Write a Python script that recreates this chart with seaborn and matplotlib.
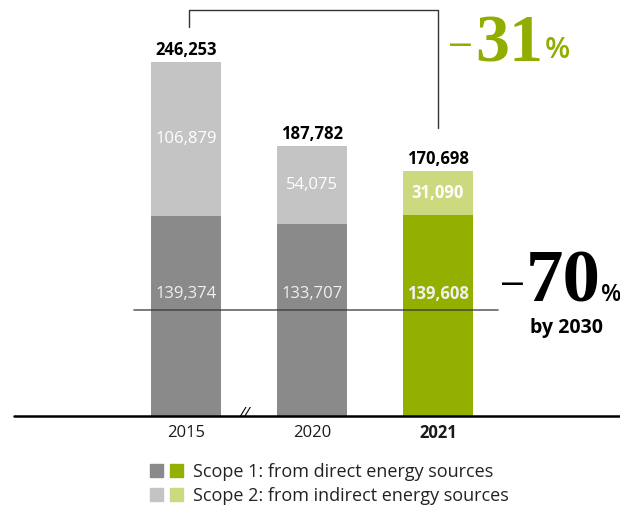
import pandas as pd
import seaborn as sns
import matplotlib.pyplot as plt
from matplotlib.patches import Patch
from matplotlib.legend_handler import HandlerTuple

sns.set_style("white")
plt.rcParams['font.family'] = ['Open Sans', 'DejaVu Sans']

# Data
years = ['2015', '2020', '2021']
scope1 = [139374, 133707, 139608]
scope2 = [106879, 54075, 31090]
totals = [246253, 187782, 170698]
target_2030 = 0.30  # -70% by 2030 vs 2015
change_label = '31'
target_label = '70'

dark_cols = ['#8a8a8a', '#8a8a8a', '#93b000']
light_cols = ['#c4c4c4', '#c4c4c4', '#ccd97e']

df = pd.DataFrame({'year': years, 'scope1': scope1, 'scope2': scope2,
                   'total': totals})

fig = plt.figure(figsize=(6.2, 5.08), dpi=100)
ax = fig.add_axes([0, 0, 1, 1])


def fpos(x, y):
    """Pixel position -> figure fraction."""
    return x / 620, 1 - y / 508


# Stacked bars: total (light) behind, scope 1 (dark) in front
sns.barplot(data=df, x='year', y='total', hue='year', palette=light_cols,
            dodge=False, legend=False, width=0.556, saturation=1,
            linewidth=0, errorbar=None, ax=ax)
sns.barplot(data=df, x='year', y='scope1', hue='year', palette=dark_cols,
            dodge=False, legend=False, width=0.556, saturation=1,
            linewidth=0, errorbar=None, ax=ax)

ax.set_xlim(-1.476, 3.444)
ax.set_ylim(-64000, 289391)
ax.axis('off')

# Baseline and axis break
ax.plot([-1.365, 3.5], [0, 0], color='black', lw=1.8, zorder=3)
ax.text(0.47, 1500, '//', ha='center', va='center', fontsize=11,
        fontstyle='italic', color='black', zorder=4)

# Labels
for i, yr in enumerate(years):
    last = i == len(years) - 1
    wt = 'bold' if last else 'normal'
    ax.text(i, totals[i] + 8300, f'{totals[i]:,}', ha='center',
            va='center', fontsize=12, fontweight='bold', color='black')
    ax.text(i, scope1[i] + scope2[i] / 2, f'{scope2[i]:,}', ha='center',
            va='center', fontsize=12, fontweight=wt, color='white')
    ax.text(i, 85000, f'{scope1[i]:,}', ha='center', va='center',
            fontsize=12, fontweight=wt, color='#f0f0f0')
    ax.text(i, -12000, yr, ha='center', va='center', fontsize=12,
            fontweight=wt, color='#1a1a1a')

# 2030 target line
ax.plot([-0.413, 2.476], [totals[0] * target_2030] * 2, color='#333333',
        lw=1.2, alpha=0.75, zorder=3)

# Bracket 2015 -> 2021
ax.plot([0.02, 0.02, 2.0, 2.0], [270500, 282500, 282500, 200300],
        color='#333333', lw=1)

# -31%
green = '#8fae00'
fig.text(*fpos(461, 45), '\u2013', ha='center', va='center', fontsize=27,
         family='Liberation Sans', color=green)
fig.text(*fpos(475, 61), change_label, ha='left', va='baseline',
         fontsize=49, fontweight='bold', family='Liberation Serif',
         color=green)
fig.text(*fpos(545, 58), '%', ha='left', va='baseline', fontsize=21,
         fontweight='semibold', color=green)

# -70% by 2030
fig.text(*fpos(512, 284), '\u2013', ha='center', va='center', fontsize=27,
         family='Liberation Sans', color='black')
fig.text(*fpos(526, 302), target_label, ha='left', va='baseline',
         fontsize=54, fontweight='bold', family='Liberation Serif',
         color='black')
fig.text(*fpos(601, 301), '%', ha='left', va='baseline', fontsize=17,
         fontweight='semibold', color='black')
fig.text(*fpos(566, 328), 'by 2030', ha='center', va='center',
         fontsize=14, fontweight='bold', color='black')

# Legend
handles = [(Patch(color=dark_cols[0]), Patch(color=dark_cols[2])),
           (Patch(color=light_cols[0]), Patch(color=light_cols[2]))]
labels = ['Scope 1: from direct energy sources',
          'Scope 2: from indirect energy sources']
fig.legend(handles, labels, handler_map={tuple: HandlerTuple(ndivide=None,
                                                             pad=0.38)},
           loc='upper left', bbox_to_anchor=fpos(150, 463), frameon=False,
           borderpad=0, borderaxespad=0, fontsize=13, handlelength=1.85,
           handleheight=0.76, handletextpad=0.52, labelspacing=0.32,
           labelcolor='#222222')

fig.savefig('out.png', dpi=100)
